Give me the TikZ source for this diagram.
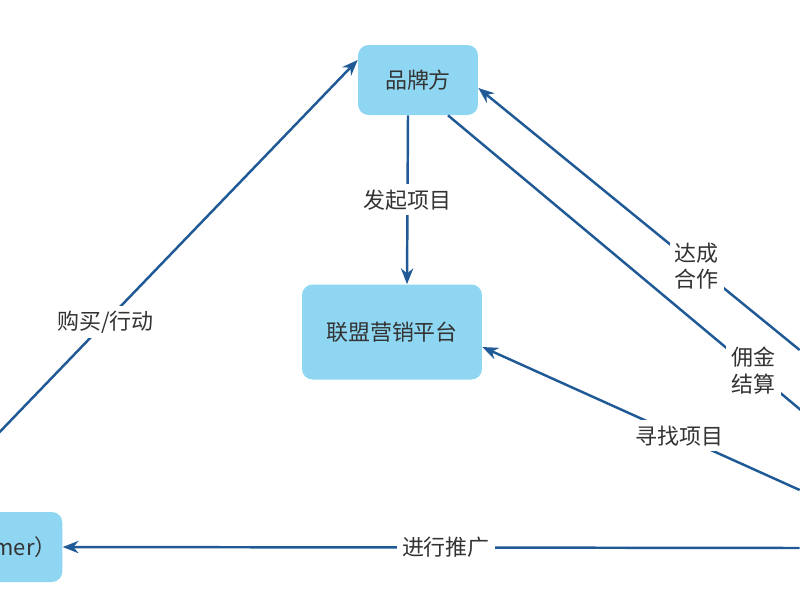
\documentclass[tikz,border=0pt]{standalone}
\usepackage{fontspec}
\setmainfont{Noto Sans CJK SC}
\usetikzlibrary{arrows.meta}
\definecolor{boxfill}{HTML}{8FD6F2}
\definecolor{linkblue}{HTML}{1F5A96}
\begin{document}
\begin{tikzpicture}[x = 0.02cm, y = -0.02cm, font = \fontsize{12.5}{15}\selectfont, text = black!80,
  box/.style = { rounded corners = 6pt, fill = boxfill, draw = none, align = center },
  link/.style = { -{Stealth[length = 9pt, width = 7pt]}, draw = linkblue, line width = 1.4pt },
  tag/.style = { fill = white, inner sep = 3pt, align = center }]
  \useasboundingbox (0, 0) rectangle (800, 600);
  \clip (0, 0) rectangle (800, 600);

  \node [box, minimum width = 4.4cm, minimum height = 1.4cm] (customer) at (-48, 547) {消费者（Customer）};
  \node [box, minimum width = 2.4cm, minimum height = 1.4cm] (brand) at (418, 80) {品牌方};
  \node [box, minimum width = 3.6cm, minimum height = 1.9cm] (platform) at (392, 332) {联盟营销平台};
  \node [box, minimum width = 3.2cm, minimum height = 4.8cm] (publisher) at (880, 460) {推广者};

  \draw [link] ([xshift = -0.2cm]brand.south) -- node [tag] {发起项目} ([xshift = 0.3cm]platform.north);
  \draw [link] ([xshift = -0.58cm]customer.north) -- node [tag, pos = 0.42] {购买/行动} ([yshift = 0.4cm]brand.west);
  \draw [link] ([yshift = 2.2cm]publisher.west) -- node [tag, pos = 0.32] {达成\\合作} ([yshift = -0.16cm]brand.east);
  \draw [link] ([xshift = 0.6cm]brand.south) -- node [tag, pos = 0.78] {佣金\\结算} ([xshift = 0.8cm, yshift = 0.35cm]publisher.west);
  \draw [link] ([yshift = -0.6cm]publisher.west) -- node [tag, pos = 0.38] {寻找项目} ([yshift = -0.3cm]platform.east);
  \draw [link] ([yshift = -1.76cm]publisher.west) -- node [tag, pos = 0.48] {进行推广} (customer.east);
\end{tikzpicture}
\end{document}
